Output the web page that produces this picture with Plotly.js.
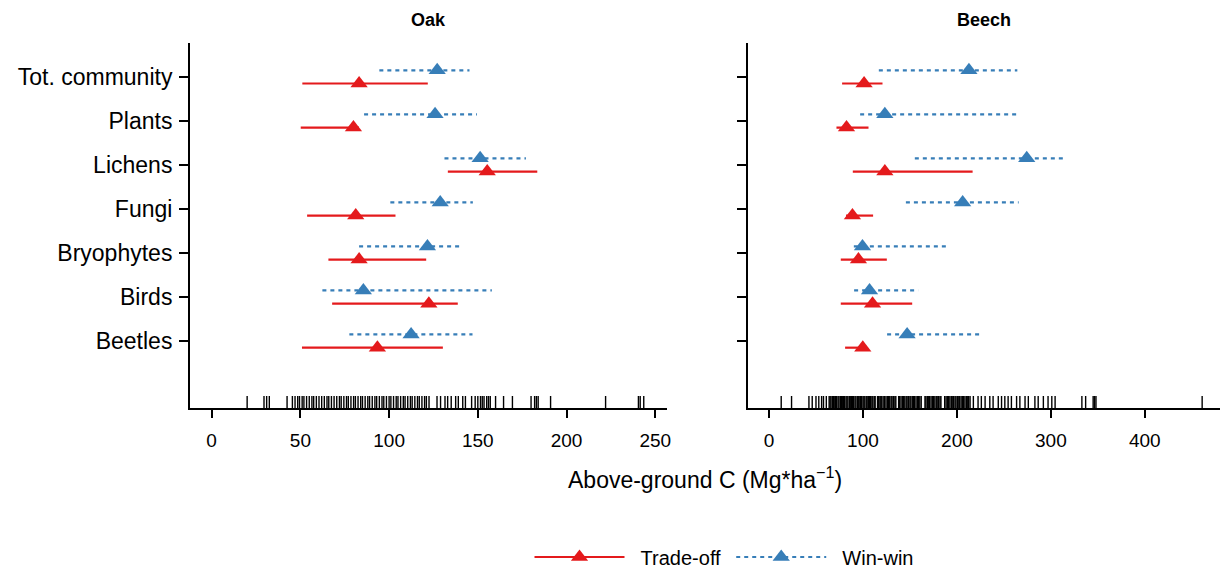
<!DOCTYPE html>
<html>
<head>
<meta charset="utf-8">
<script src="https://cdn.plot.ly/plotly-3.0.1.min.js"></script>
<style>html,body{margin:0;padding:0;background:#fff;}#chart{width:1223px;height:572px;}</style>
</head>
<body>
<div id="chart"></div>
<script>
// Categories, bottom to top
const categories = ['Beetles','Birds','Bryophytes','Fungi','Lichens','Plants','Tot. community'];

// Oak: Trade-off
const oakTradeMean = [93.4, 122.4, 83.1, 81.2, 155.3, 79.9, 83.1];
const oakTradeLo   = [50.9, 67.9, 65.8, 53.8, 133.1, 50.2, 51.1];
const oakTradeHi   = [130.3, 138.7, 120.9, 103.6, 183.5, 83.0, 121.8];
// Oak: Win-win
const oakWinMean = [112.4, 85.5, 121.6, 128.8, 151.3, 125.9, 127.1];
const oakWinLo   = [77.6, 62.4, 83.1, 100.7, 131.2, 85.9, 94.5];
const oakWinHi   = [147.0, 157.9, 141.6, 147.2, 177.1, 149.5, 145.3];

// Beech: Trade-off
const beechTradeMean = [99.8, 110.2, 95.2, 88.8, 123.3, 82.5, 101.2];
const beechTradeLo   = [81.0, 76.4, 76.4, 82.0, 89.2, 71.8, 77.8];
const beechTradeHi   = [104.0, 152.4, 125.4, 110.8, 216.7, 105.9, 120.8];
// Beech: Win-win
const beechWinMean = [147.0, 107.0, 99.5, 206.1, 274.3, 123.3, 212.8];
const beechWinLo   = [125.7, 90.6, 90.3, 145.7, 155.2, 97.0, 116.9];
const beechWinHi   = [225.2, 158.8, 189.0, 265.7, 313.3, 266.4, 264.3];

// Rug values (observed above-ground C per plot)
const oakRug = [20, 29.5, 31, 32.5, 42.5, 45.5, 47, 48.5, 49.5, 51, 52, 53.5, 55, 56.5, 57.5, 59, 60.5, 62, 63.5, 65, 66, 67.5, 69, 70.5, 72, 73, 74.5, 76, 77, 78.5, 80, 81, 82.5, 84, 85, 86.5, 88, 89, 90.5, 92, 93, 94.5, 96, 97, 98.5, 100, 101, 102.5, 104, 105, 106.5, 108, 109, 110.5, 112, 113, 114.5, 116, 117, 118.5, 120, 121, 122.5, 127, 129, 131.5, 133, 135, 137.5, 139, 141.5, 143, 146.5, 148.5, 150, 151.5, 152.5, 153.5, 155, 156, 157, 160, 164.5, 169.5, 180, 182, 183, 184, 191, 222, 240.5, 241.5, 243.5];
const beechRug = [13, 24, 42.5, 46, 50, 53, 56, 58, 61, 64, 65, 66, 67.5, 68.5, 70, 71, 72, 73.5, 74.5, 76, 77, 78, 79.5, 80.5, 82, 83, 84, 85.5, 86.5, 88, 89, 90, 91.5, 92.5, 94, 95, 96, 97.5, 98.5, 100, 101, 102, 103.5, 104.5, 106, 107, 108, 109.5, 110.5, 112, 113, 115.5, 116.5, 118, 119, 120, 121.5, 123, 124.5, 126, 127, 128.5, 130, 131, 132.5, 134, 135, 138, 139, 140.5, 142, 143, 144.5, 146, 147, 148.5, 150, 151, 152.5, 154, 155, 156.5, 158, 159, 160.5, 162, 166, 167, 168.5, 170, 171, 172.5, 174, 175, 176.5, 178, 179, 180.5, 182, 183, 187, 188.5, 190, 191, 192.5, 194, 195, 196.5, 198, 199, 200.5, 202, 203, 204.5, 206, 207, 208.5, 210, 211, 212.5, 214, 217.5, 222.5, 226, 230, 235, 238.5, 244, 247.5, 251, 254.5, 258, 263.5, 267, 272.5, 276, 283, 286.5, 292, 297, 301, 304.5, 333, 337, 345, 346.5, 348, 461];

const oakTicks = [0, 50, 100, 150, 200, 250];
const beechTicks = [0, 100, 200, 300, 400];
const seriesNames = ['Trade-off', 'Win-win'];

const RED = '#E41A1C', BLUE = '#377EB8';
const FONT = 'Liberation Sans, Arial, sans-serif';
const yRange = [-0.52, 7.77];
const dodge = 0.15;
const plotH = 572 - 43 - 164;
const rugY = yRange[0] + 5 * (yRange[1] - yRange[0]) / plotH;
const catIdx = categories.map((c, i) => i + 1);
const NB = '\u00a0';

function segs(lo, hi, off) {
  const xs = [], ys = [];
  lo.forEach((v, i) => { xs.push(v, hi[i], null); ys.push(catIdx[i] + off, catIdx[i] + off, null); });
  return {xs, ys};
}

const traces = [];
function panel(xa, ya, tM, tL, tH, wM, wL, wH, rug) {
  const ts = segs(tL, tH, -dodge), ws = segs(wL, wH, dodge);
  traces.push({x: rug, y: rug.map(() => rugY), xaxis: xa, yaxis: ya, mode: 'markers', type: 'scatter',
    marker: {symbol: 'line-ns', size: 10, line: {color: '#000', width: 1.4}}, showlegend: false, hoverinfo: 'x', cliponaxis: false});
  traces.push({x: ts.xs, y: ts.ys, xaxis: xa, yaxis: ya, mode: 'lines', line: {color: RED, width: 2.2}, showlegend: false, hoverinfo: 'skip'});
  traces.push({x: ws.xs, y: ws.ys, xaxis: xa, yaxis: ya, mode: 'lines', line: {color: BLUE, width: 2.2, dash: '4px,4px'}, showlegend: false, hoverinfo: 'skip'});
  traces.push({x: tM, y: catIdx.map(v => v - dodge), xaxis: xa, yaxis: ya, mode: 'markers', marker: {symbol: 'triangle-up', size: 15, color: RED}, showlegend: false});
  traces.push({x: wM, y: catIdx.map(v => v + dodge), xaxis: xa, yaxis: ya, mode: 'markers', marker: {symbol: 'triangle-up', size: 15, color: BLUE}, showlegend: false});
}
panel('x', 'y', oakTradeMean, oakTradeLo, oakTradeHi, oakWinMean, oakWinLo, oakWinHi, oakRug);
panel('x2', 'y2', beechTradeMean, beechTradeLo, beechTradeHi, beechWinMean, beechWinLo, beechWinHi, beechRug);
// legend entries
traces.push({x: [null], y: [null], name: NB + NB + seriesNames[0] + NB, mode: 'lines+markers', line: {color: RED, width: 2.2}, marker: {symbol: 'triangle-up', size: 15, color: RED}});
traces.push({x: [null], y: [null], name: NB + NB + seriesNames[1], mode: 'lines+markers', line: {color: BLUE, width: 2.2, dash: '4px,4px'}, marker: {symbol: 'triangle-up', size: 15, color: BLUE}});

const xCommon = {showline: true, linecolor: '#000', linewidth: 2, ticks: 'outside', ticklen: 8, tickwidth: 2, tickcolor: '#000',
  showgrid: false, zeroline: false, tickfont: {family: FONT, size: 19, color: '#000'}, ticklabelstandoff: 6, fixedrange: true};
const yCommon = {showline: true, linecolor: '#000', linewidth: 2, ticks: 'outside', ticklen: 9, tickwidth: 2, tickcolor: '#000',
  showgrid: false, zeroline: false, range: yRange, tickvals: catIdx, ticktext: categories, tickfont: {family: FONT, size: 23, color: '#000'}, ticklabelstandoff: 2, fixedrange: true};

const layout = {
  width: 1223, height: 572,
  margin: {l: 190, r: 3, t: 43, b: 164},
  paper_bgcolor: '#fff', plot_bgcolor: '#fff',
  font: {family: FONT, color: '#000'},
  xaxis: Object.assign({}, xCommon, {domain: [0, 0.4631], range: [-12.2, 256.6], tickvals: oakTicks, anchor: 'y'}),
  xaxis2: Object.assign({}, xCommon, {domain: [0.5417, 1], range: [-22.4, 480], tickvals: beechTicks, anchor: 'y2'}),
  yaxis: Object.assign({}, yCommon, {anchor: 'x'}),
  yaxis2: Object.assign({}, yCommon, {anchor: 'x2', showticklabels: false}),
  showlegend: true,
  legend: {orientation: 'h', xref: 'container', yref: 'container', x: 724 / 1223, xanchor: 'center', y: 1 - 557 / 572, yanchor: 'middle',
    font: {family: FONT, size: 20, color: '#000'}, itemwidth: 90, tracegroupgap: 0},
  annotations: [
    {text: '<b>Oak</b>', xref: 'x domain', yref: 'paper', x: 0.5, y: 1, yshift: 23, yanchor: 'middle', showarrow: false, font: {family: FONT, size: 18, color: '#000'}},
    {text: '<b>Beech</b>', xref: 'x2 domain', yref: 'paper', x: 0.5, y: 1, yshift: 23, yanchor: 'middle', showarrow: false, font: {family: FONT, size: 18, color: '#000'}},
    {text: 'Above-ground C (Mg*ha<sup>\u22121</sup>)', xref: 'paper', yref: 'paper', x: 0.5, y: -0.192, yanchor: 'middle', showarrow: false, font: {family: FONT, size: 23, color: '#000'}}
  ]
};

Plotly.newPlot('chart', traces, layout, {displayModeBar: false, staticPlot: true});
</script>
</body>
</html>
